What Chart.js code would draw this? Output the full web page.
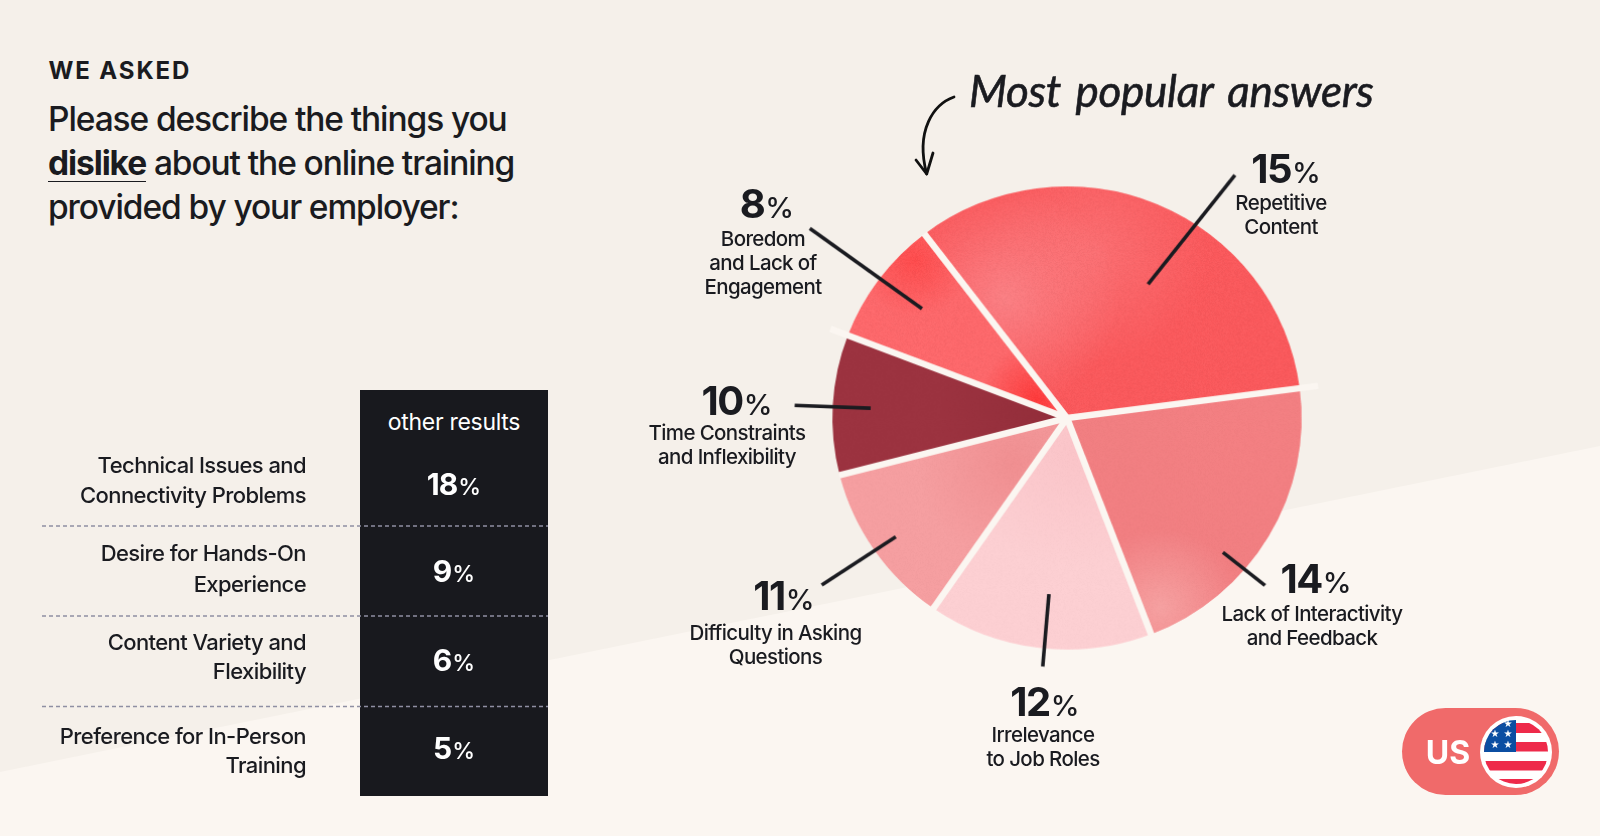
<!DOCTYPE html>
<html><head><meta charset="utf-8">
<script src="https://cdn.jsdelivr.net/npm/chart.js@4"></script>
<style>
html,body{margin:0;padding:0;width:1600px;height:836px;overflow:hidden;background:#f5f0ea;}
body{position:relative;font-family:"Inter","Noto Sans",sans-serif;color:#1a1b20;}
.abs{position:absolute;white-space:nowrap;}
.c{transform:translate(-50%,-50%);text-align:center;}
.r{transform:translate(-100%,-50%);text-align:right;}
#bg,#deco{position:absolute;left:0;top:0;width:1600px;height:836px;}
#pie{position:absolute;left:786.5px;top:137.5px;transform:scale(1.007,.994);}
.val{font-weight:700;font-size:40px;letter-spacing:-1.5px;line-height:1;}
.val span{font-weight:500;font-size:29px;letter-spacing:0;margin-left:1px;}
.lab{font-weight:500;font-size:20.5px;letter-spacing:-.62px;line-height:24px;}
.tlab{font-weight:500;font-size:22px;letter-spacing:-.58px;line-height:1;}
.tval{font-weight:700;font-size:30px;letter-spacing:-1px;color:#fff;line-height:1;}
.tval span{font-weight:500;font-size:23px;letter-spacing:0;margin-left:1px;}
#title{left:48px;top:97px;font-weight:500;font-size:33.5px;letter-spacing:-1.1px;line-height:44px;}
#title b{font-weight:700;border-bottom:1.5px solid #1a1b20;display:inline-block;line-height:36px;}
</style></head><body>
<svg id="bg" viewBox="0 0 1600 836"><polygon points="0,772 1600,446 1600,836 0,836" fill="#fbf6f1"/></svg>
<div class="abs" style="left:48.5px;top:55.5px;font-weight:700;font-size:24px;letter-spacing:1.9px;">WE ASKED</div>
<div class="abs" id="title">Please describe the things you<br><b>dislike</b> about the online training<br>provided by your employer:</div>
<div class="abs" style="left:360px;top:390px;width:188px;height:406px;background:#18191e;"></div>
<div class="abs c" style="left:454px;top:421.5px;font-size:23px;font-weight:400;color:#fff;letter-spacing:-.3px;">other results</div>
<canvas id="pie" width="560" height="560"></canvas>
<svg id="deco" viewBox="0 0 1600 836">
  <defs><clipPath id="fc"><circle cx="1516" cy="752" r="32"/></clipPath></defs>
  <g stroke="#8f8fa3" stroke-width="1.4" stroke-dasharray="4 3" fill="none">
    <line x1="42" x2="548" y1="526" y2="526"/><line x1="42" x2="548" y1="616" y2="616"/><line x1="42" x2="548" y1="706.5" y2="706.5"/>
  </g>
  <path d="M954 97C934 104 915 130 926.7 174" fill="none" stroke="#111" stroke-width="2.8" stroke-linecap="round"/>
  <path d="M916 160L926.7 174L933 153" fill="none" stroke="#111" stroke-width="2.8" stroke-linecap="round" stroke-linejoin="round"/>
  <rect x="1402" y="708" width="157" height="87" rx="43.5" fill="#f06a6a"/>
  <circle cx="1516" cy="752" r="36" fill="#fff"/>
  <g clip-path="url(#fc)">
    <rect x="1484" y="720" width="64" height="64" fill="#fff"/>
    <g fill="#ee2a4a"><rect x="1484" y="723" width="64" height="10"/><rect x="1484" y="742" width="64" height="9.5"/><rect x="1484" y="761" width="64" height="9.5"/><rect x="1484" y="779" width="64" height="6"/></g>
    <rect x="1484" y="720" width="32" height="32" fill="#0b4ea2"/>
    <g fill="#fff" font-size="10" text-anchor="middle" font-family="DejaVu Sans"><text x="1508" y="727">★</text><text x="1495" y="737">★</text><text x="1508" y="737">★</text><text x="1495" y="748">★</text><text x="1508" y="748">★</text></g>
  </g>
</svg>
<div class="abs c" style="left:1448px;top:752px;font-size:32px;font-weight:700;color:#fff;">US</div>
<div class="abs" style="left:969px;top:64px;font-family:'Lato';font-style:italic;font-weight:400;font-size:44px;letter-spacing:-.3px;word-spacing:4.5px;-webkit-text-stroke:.6px #1a1b20;">Most popular answers</div>
<script>
// Labelled answer shares (%), as printed on the chart
const categories = [["Repetitive","Content"],["Lack of Interactivity","and Feedback"],["Irrelevance","to Job Roles"],["Difficulty in Asking","Questions"],["Time Constraints","and Inflexibility"],["Boredom","and Lack of","Engagement"]];
const shares = [15,14,12,11,10,8];
// Slice sizes, in degrees: the reference's slices are not proportional to its printed percentages
const sliceDegrees = [120,76.4,55.7,41,35.2,31.7];
const otherCategories = [["Technical Issues and","Connectivity Problems"],["Desire for Hands-On","Experience"],["Content Variety and","Flexibility"],["Preference for In-Person","Training"]];
const otherShares = [18,9,6,5];

const sliceColors = ["#fb595c","#f27f82","#fdd0d3","#f69fa1","#9c3340","#fe686b"];
const separatorOvershoot = [0,18,0,0,0,18];
const startDegrees = 322.6;
// leader anchors: [fraction across slice, radius fraction]
const leaderOuter = [[.5975,1.27],[.628,1.111],[.476,1.078],[.505,1.27],[.483,1.162],[.5,1.368]];
const leaderInner = [[.569,.673],[.635,.882],[.481,.764],[.493,.892],[.489,.838],[.52,.778]];
// tinted glows: slice, dx, dy (fractions of radius from centre), size, colour
const glows = [
 [0,-.26,-.52,.48,"rgba(252,132,137,.9)"],[0,.12,-.72,.48,"rgba(252,128,132,.55)"],
 [5,-.13,-.08,.24,"rgba(255,50,50,.85)"],[5,-.65,-.68,.24,"rgba(255,60,60,.65)"],
 [4,-.05,0,.5,"rgba(134,38,50,.4)"],
 [3,-.22,.2,.42,"rgba(236,128,130,.5)"],
 [2,.02,.15,.5,"rgba(250,190,195,.6)"],
 [1,.4,.82,.34,"rgba(247,165,165,.9)"],[1,.75,.1,.5,"rgba(246,128,131,.6)"]
];
const grainStrength = [.03,.015,.01,.015,.005,.03];
const labelPos = [[1286,169,1281,203],[1316,579,1312,614],[1045,702,1043,735],[784,596,775.5,633],[737,401,727,433],[767,204,763,239]];
const rowLabelY = [[465,495],[553,584],[642,671],[736,765]];
const rowValueY = [484,571,660,748];

function add(cls,x,y,html){const d=document.createElement('div');d.className='abs '+cls;d.style.left=x+'px';d.style.top=y+'px';d.innerHTML=html;document.body.appendChild(d);return d;}
shares.forEach((v,i)=>{const p=labelPos[i];
  add('c val',p[0],p[1],v+'<span>%</span>');
  add('c lab',p[2],p[3]+(categories[i].length-1)*12,categories[i].join('<br>'));});
otherCategories.forEach((lines,i)=>{lines.forEach((t,j)=>add('r tlab',306,rowLabelY[i][j],t));
  add('c tval',454,rowValueY[i],otherShares[i]+'<span>%</span>');});

// fine paper-grain texture, from a fixed hash
function grainTile(){const c=document.createElement('canvas');c.width=c.height=160;const x=c.getContext('2d'),im=x.createImageData(160,160);
  for(let i=0;i<160*160;i++){const h=Math.sin(i*12.9898+(i%160)*78.233)*43758.5453,f=h-Math.floor(h),v=f>.5?255:0;
    im.data[i*4]=v;im.data[i*4+1]=v;im.data[i*4+2]=v;im.data[i*4+3]=255*Math.abs(f-.5)*2;}
  x.putImageData(im,0,0);return c;}
const tile=grainTile();
function polar(cx,cy,a,r){return [cx+Math.cos(a)*r,cy+Math.sin(a)*r];}
const piePlugin={id:'piePlugin',
 afterDatasetsDraw(chart){
  const ctx=chart.ctx, arcs=chart.getDatasetMeta(0).data;
  const clip=a=>{ctx.beginPath();ctx.moveTo(a.x,a.y);ctx.arc(a.x,a.y,a.outerRadius,a.startAngle,a.endAngle);ctx.closePath();ctx.clip();};
  glows.forEach(g=>{const a=arcs[g[0]],R=a.outerRadius,gx=a.x+g[1]*R,gy=a.y+g[2]*R;
    ctx.save();clip(a);
    const gr=ctx.createRadialGradient(gx,gy,0,gx,gy,g[3]*R);
    gr.addColorStop(0,g[4]);gr.addColorStop(1,g[4].replace(/[\d.]+\)$/,'0)'));
    ctx.fillStyle=gr;ctx.fillRect(a.x-R,a.y-R,2*R,2*R);ctx.restore();});
  arcs.forEach((a,i)=>{ctx.save();clip(a);ctx.globalAlpha=grainStrength[i];ctx.fillStyle=ctx.createPattern(tile,'repeat');
    ctx.fillRect(a.x-a.outerRadius,a.y-a.outerRadius,2*a.outerRadius,2*a.outerRadius);ctx.restore();});
  ctx.save();ctx.strokeStyle='#fbf6f1';ctx.lineWidth=6.5;ctx.lineCap='butt';
  arcs.forEach((a,i)=>{const e=polar(a.x,a.y,a.startAngle,a.outerRadius+separatorOvershoot[i]+.5);
    ctx.beginPath();ctx.moveTo(a.x,a.y);ctx.lineTo(e[0],e[1]);ctx.stroke();});
  ctx.strokeStyle='#1a1b20';ctx.lineWidth=3.6;
  arcs.forEach((a,i)=>{const at=f=>a.startAngle+(a.endAngle-a.startAngle)*f;
    const o=polar(a.x,a.y,at(leaderOuter[i][0]),a.outerRadius*leaderOuter[i][1]);
    const n=polar(a.x,a.y,at(leaderInner[i][0]),a.outerRadius*leaderInner[i][1]);
    ctx.beginPath();ctx.moveTo(o[0],o[1]);ctx.lineTo(n[0],n[1]);ctx.stroke();});
  ctx.restore();
 }};
new Chart(document.getElementById('pie'),{type:'pie',
 data:{labels:categories.map(c=>c.join(' ')),datasets:[{data:sliceDegrees,backgroundColor:sliceColors,borderWidth:0}]},
 options:{responsive:false,animation:false,devicePixelRatio:1,rotation:startDegrees,layout:{padding:47},
  plugins:{legend:{display:false},tooltip:{enabled:false}}},
 plugins:[piePlugin]});
</script>
</body></html>
